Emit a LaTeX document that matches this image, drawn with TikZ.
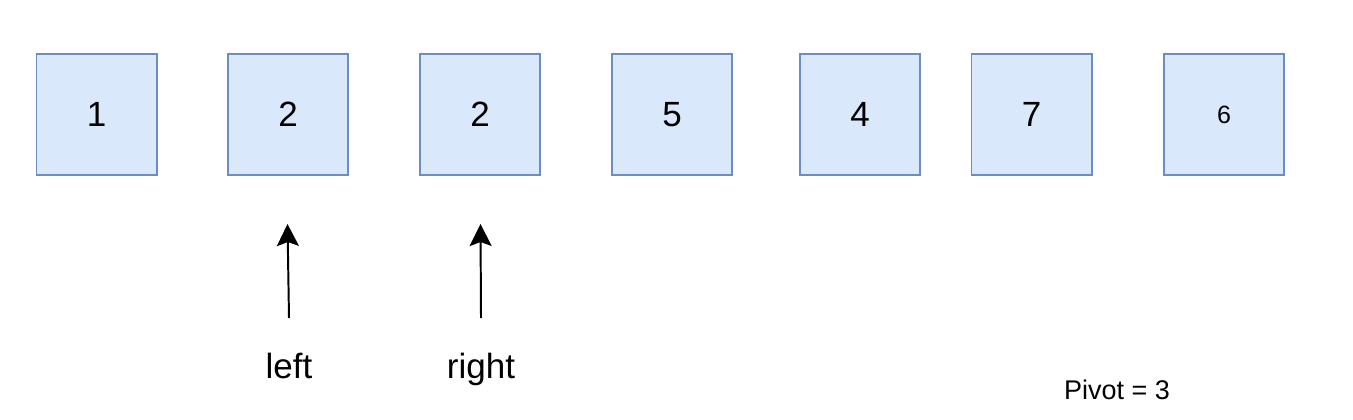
\documentclass[tikz,border=0pt]{standalone}
\usepackage{fontspec}
\setmainfont{Liberation Sans}
\usetikzlibrary{arrows.meta}
\definecolor{cellfill}{HTML}{DAE8FC}
\definecolor{cellline}{HTML}{6C8EBF}
\tikzset{
  cell/.style={draw=cellline, fill=cellfill, line width=1.4pt, minimum size=3cm, inner sep=0pt,
    font=\fontsize{24.9pt}{30pt}\selectfont},
  pointer/.style={line width=1.4pt, -{Stealth[length=0.55cm,width=0.55cm,inset=0.1cm]}},
  lbl/.style={anchor=base, font=\fontsize{24.9pt}{30pt}\selectfont}
}
\begin{document}
\begin{tikzpicture}[x=0.025cm,y=-0.025cm]
\useasboundingbox (0,0) rectangle (1353,420);

\node[cell] (c1) at (96.5,114.5) {1};
\node[cell] (c2) at (288,114.5) {2};
\node[cell] (c3) at (480,114.5) {2};
\node[cell] (c4) at (672,114.5) {5};
\node[cell] (c5) at (860,114.5) {4};
\node[cell] (c6) at (1031.5,114.5) {7};
\node[cell,font=\fontsize{17.8pt}{22pt}\selectfont] (c7) at (1224,114.5) {6};

\coordinate (lefttail) at (289,318);
\coordinate (lefthead) at (287.5,224);
\coordinate (righttail) at (481,318);
\coordinate (righthead) at (480.5,224);
\draw[pointer] (lefttail) -- (lefthead);
\draw[pointer] (righttail) -- (righthead);

\node[lbl] (leftlbl) at (289,378) {left};
\node[lbl] (rightlbl) at (481,378) {right};

\node[anchor=base, font=\fontsize{19.2pt}{23pt}\selectfont] (pivot) at (1117,399) {Pivot = 3};

\end{tikzpicture}
\end{document}
